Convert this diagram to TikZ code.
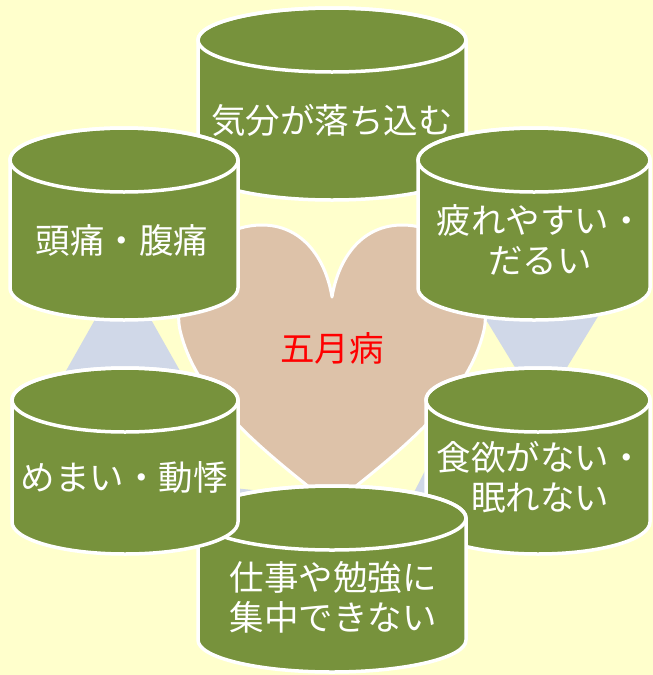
\documentclass[tikz,border=0pt]{standalone}
\usepackage{fontspec}
\newfontfamily\cjk{Noto Sans CJK JP}
\definecolor{bgc}{RGB}{255,255,204}
\definecolor{olivec}{RGB}{119,146,60}
\definecolor{heartc}{RGB}{221,194,169}
\definecolor{arrowc}{RGB}{208,216,232}
\newcommand\drawcyl[4]{%
  \path[fill=olivec,draw=white,line width=3.5pt,line join=round]
    (#1-#2,#3) -- (#1-#2,#4)
    arc[start angle=180,end angle=360,x radius=#2pt,y radius=32pt]
    -- (#1+#2,#3)
    arc[start angle=0,end angle=180,x radius=#2pt,y radius=32pt] -- cycle;
  \draw[white,line width=3.5pt] (#1,#3) ellipse[x radius=#2pt,y radius=32pt];
}
\tikzset{
  txt/.style={text=white,font=\cjk\fontsize{34.5}{40}\selectfont,align=center,inner sep=0pt},
  head/.style={fill=arrowc,draw=none}
}
\begin{document}
\begin{tikzpicture}[x=1pt,y=-1pt]
\fill[bgc] (0,0) rectangle (653,675);
\useasboundingbox (0,0) rectangle (653,675);
% arrow heads of the cycle
\path[head] (474,300) -- (608,300) -- (541,410) -- cycle;
\path[head] (123,270) -- (188,385) -- (58,385) -- cycle;
\path[head] (405,510) -- (446.8,428) -- (496.9,505.2) -- cycle;
\path[head] (205,485) -- (296.5,494.6) -- (242.4,569) -- cycle;
% heart
\path[fill=heartc,draw=white,line width=3pt,line join=round]
  (332,505) .. controls (255,445) and (195,395) .. (180,330)
  .. controls (172,295) and (200,225) .. (262,225)
  .. controls (300,225) and (325,255) .. (332,297)
  .. controls (339,255) and (364,225) .. (402,225)
  .. controls (464,225) and (492,295) .. (484,330)
  .. controls (469,395) and (409,445) .. (332,505) -- cycle;
\node[inner sep=0pt,text=red,font=\cjk\fontsize{34.5}{40}\selectfont] (center) at (332,348) {五月病};
% cylinders
\drawcyl{332}{134}{40}{168}
\node[txt] (c1) at (332,120) {気分が落ち込む};
\drawcyl{534}{116}{160}{288}
\node[txt] (c2) at (540,240) {疲れやすい・\\だるい};
\drawcyl{538}{112}{400}{522}
\node[txt] (c3) at (540,477) {食欲がない・\\眠れない};
\drawcyl{332}{134}{518}{640}
\node[txt] (c4) at (333,597) {仕事や勉強に\\集中できない};
\drawcyl{125}{113}{400}{522}
\node[txt] (c5) at (124,477) {めまい・動悸};
\drawcyl{124}{114}{160}{288}
\node[txt] (c6) at (122,240) {頭痛・腹痛};
\end{tikzpicture}
\end{document}
